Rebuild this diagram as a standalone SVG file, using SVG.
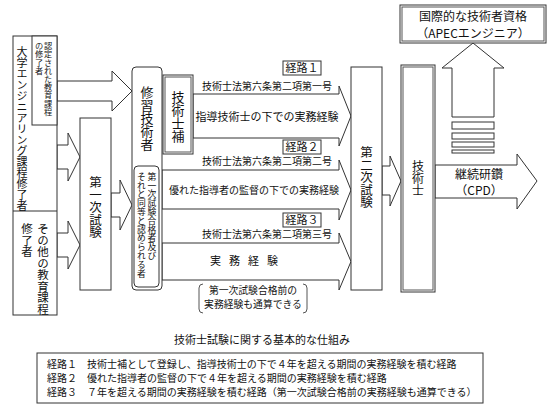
<svg xmlns="http://www.w3.org/2000/svg" width="550" height="410" viewBox="0 0 550 410">
<style>
text{font-family:"Noto Sans CJK JP","Noto Sans",sans-serif;fill:#111}
.b{fill:#fff;stroke:#333;stroke-width:1}
.g{fill:none;stroke:#555;stroke-width:1}
.v{writing-mode:vertical-rl;text-anchor:start}
.c{text-anchor:middle}
</style>
<rect width="550" height="410" fill="#fff"/>
<g id="connectors">
<polygon class="b" points="57,81 112,81 112,71 132,91 112,111 112,101 57,101"/>
<polygon class="b" points="57,145 68,145 68,133 80,157 68,181 68,169 57,169"/>
<polygon class="b" points="57,233 68,233 68,221 80,245 68,269 68,257 57,257"/>
<polygon class="b" points="111,193 120,193 120,180 132,205 120,230 120,217 111,217"/>
<polygon class="b" points="193,94 339,94 339,86 351,116 339,146 339,138 193,138"/>
<polygon class="b" points="162,170 339,170 339,160 351,190 339,220 339,209 162,209"/>
<polygon class="b" points="162,243 339,243 339,233 351,261.5 339,290 339,280 162,280"/>
<polygon class="b" points="382,166 390,166 390,156 401,181 390,206 390,195 382,195"/>
<polygon class="b" points="435,165 517,165 517,154 537,181 517,209 517,198 435,198"/>
<polygon class="b" points="452,117 452,68 442,68 473,43 504,68 494,68 494,117"/>
<rect class="b" x="452" y="122" width="42" height="7"/>
<rect class="b" x="452" y="133" width="42" height="6"/>
<rect class="b" x="452" y="142" width="42" height="5"/>
<rect class="b" x="452" y="150" width="42" height="3"/>
</g>
<g id="left-box">
<rect class="b" x="13" y="36" width="44" height="279"/>
<line class="b" x1="13" y1="211" x2="57" y2="211"/>
<text class="v" x="22" y="46" font-size="11">大学エンジニアリング課程修了者</text>
<text class="v" x="43" y="223" font-size="11.5">その他の教育課程</text>
<text class="v" x="27" y="223" font-size="11.5">修了者</text>
</g>
<g id="accredited">
<rect class="b" x="32" y="36" width="25" height="89"/>
<text class="v" x="48" y="42" font-size="8.2">認定された教育課程</text>
<text class="v" x="39" y="42" font-size="8.2">の修了者</text>
</g>
<g id="first-exam">
<rect class="b" x="80" y="118" width="31" height="172"/>
<text class="v" x="95.5" y="176" font-size="12.5">第一次試験</text>
</g>
<g id="trainee">
<rect class="b" x="132" y="67" width="30" height="223" rx="4"/>
<text class="v" x="147" y="86" font-size="13">修習技術者</text>
<rect class="b" x="134" y="166" width="25" height="121" rx="4"/>
<text class="v" x="152" y="172" font-size="8.8">第一次試験合格者及び</text>
<text class="v" x="141.5" y="172" font-size="8.8">それと同等と認められる者</text>
</g>
<g id="assistant">
<rect class="b" x="163" y="75" width="30" height="79"/>
<rect class="g" x="165" y="77" width="26" height="75"/>
<text class="v" x="178" y="91" font-size="13">技術士補</text>
</g>
<g id="route-labels">
<rect class="b" x="283" y="61" width="38" height="14"/>
<text class="c" x="302" y="72" font-size="11">経路１</text>
<text x="202" y="90" font-size="10">技術士法第六条第二項第一号</text>
<text class="c" x="267" y="121" font-size="11">指導技術士の下での実務経験</text>
<rect class="b" x="283" y="140" width="38" height="14"/>
<text class="c" x="302" y="151" font-size="11">経路２</text>
<text x="202" y="165" font-size="10">技術士法第六条第二項第二号</text>
<text class="c" x="254" y="194" font-size="10">優れた指導者の監督の下での実務経験</text>
<rect class="b" x="283" y="213" width="38" height="14"/>
<text class="c" x="302" y="224" font-size="11">経路３</text>
<text x="202" y="238" font-size="10">技術士法第六条第二項第三号</text>
<text x="210" y="265" font-size="11" letter-spacing="8">実務経験</text>
<path class="g" d="M203,284 Q199,284 199,288 L199,309 Q199,313 203,313 M303,284 Q307,284 307,288 L307,309 Q307,313 303,313"/>
<text class="c" x="253" y="294" font-size="9.8">第一次試験合格前の</text>
<text class="c" x="253" y="308" font-size="9.8">実務経験も通算できる</text>
</g>
<g id="second-exam">
<rect class="b" x="351" y="67" width="31" height="223"/>
<text class="v" x="366.5" y="146" font-size="12.5">第二次試験</text>
</g>
<g id="pe">
<rect class="b" x="401" y="65" width="34" height="227"/>
<rect class="g" x="403" y="67" width="30" height="223"/>
<text class="v" x="418" y="160" font-size="12">技術士</text>
</g>
<g id="cpd">
<text class="c" x="479" y="179" font-size="12">継続研鑽</text>
<text class="c" x="479" y="195" font-size="12">（CPD）</text>
</g>
<g id="apec">
<rect class="b" x="400" y="5" width="146" height="38"/>
<rect class="g" x="402" y="7" width="142" height="34"/>
<text class="c" x="473" y="21" font-size="12">国際的な技術者資格</text>
<text class="c" x="473" y="37.5" font-size="12">（APECエンジニア）</text>
</g>
<g id="caption">
<text class="c" x="262" y="344" font-size="11">技術士試験に関する基本的な仕組み</text>
</g>
<g id="legend">
<rect class="b" x="37" y="353" width="446" height="50"/>
<text x="47" y="368" font-size="10">経路１</text>
<text x="87" y="368" font-size="10">技術士補として登録し、指導技術士の下で４年を超える期間の実務経験を積む経路</text>
<text x="47" y="382" font-size="10">経路２</text>
<text x="87" y="382" font-size="10">優れた指導者の監督の下で４年を超える期間の実務経験を積む経路</text>
<text x="47" y="396" font-size="10">経路３</text>
<text x="87" y="396" font-size="10">７年を超える期間の実務経験を積む経路（第一次試験合格前の実務経験も通算できる）</text>
</g>
</svg>
